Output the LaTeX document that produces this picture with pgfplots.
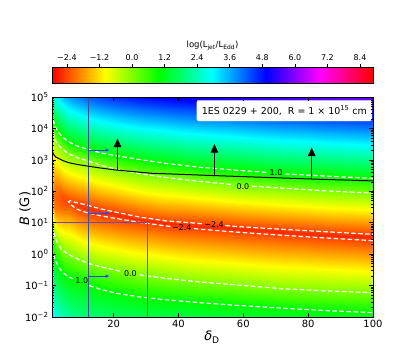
\documentclass[border=0pt]{standalone}
\usepackage{fontspec}
\setmainfont{DejaVu Sans}
\usepackage{pgfplots}
\pgfplotsset{compat=1.18}
\usepackage{pgfplotstable}
\usetikzlibrary{arrows.meta}

\pgfplotsset{colormap={mplhsv}{rgb255=(255,0,0) rgb255=(255,255,0) rgb255=(0,255,0)
  rgb255=(0,255,255) rgb255=(0,0,255) rgb255=(255,0,255) rgb255=(255,0,0)}}

% log(Ljet/LEdd): one column per delta, rows bottom -> top
% (B bottom, 1.0 low, 0.0 low, -2.4 low, valley, -2.4 up, 0.0 up, 1.0 up, B top)
\pgfplotstableread{
d lb v
1 -2 3.2
1 0.2 1
1 0.9 0
1 1.55 -1.6
1 1.95 -1.95
1 2.45 -1.4
1 4.1 0
1 4.5 1
1 5 2.3
2 -2 2.8
2 -0.2 1
2 0.52 0
2 1.45 -2.0
2 1.8 -2.2
2 2.2 -2.0
2 3.62 0
2 4.05 1
2 5 2.9
4 -2 2.4
4 -0.55 1
4 0.14 0
4 1.52 -2.25
4 1.72 -2.33
4 1.92 -2.25
4 3.36 0
4 3.75 1
4 5 3.4
6 -2 2.2
6 -0.72 1
6 0 0
6 1.58 -2.33
6 1.67 -2.39
6 1.76 -2.33
6 3.2 0
6 3.58 1
6 5 3.7
9 -2 2.0
9 -0.87 1
9 -0.16 0
9 1.43 -2.4
9 1.535 -2.5
9 1.635 -2.4
9 3.06 0
9 3.43 1
9 5 4.0
12 -2 1.9
12 -0.98 1
12 -0.29 0
12 1.31 -2.4
12 1.43 -2.55
12 1.555 -2.4
12 2.97 0
12 3.335 1
12 5 4.25
16 -2 1.8
16 -1.12 1
16 -0.40 0
16 1.22 -2.4
16 1.33 -2.6
16 1.44 -2.4
16 2.83 0
16 3.22 1
16 5 4.45
21 -2 1.7
21 -1.25 1
21 -0.52 0
21 1.13 -2.4
21 1.23 -2.62
21 1.33 -2.4
21 2.70 0
21 3.13 1
21 5 4.65
28 -2 1.6
28 -1.36 1
28 -0.66 0
28 1.01 -2.4
28 1.095 -2.64
28 1.18 -2.4
28 2.56 0
28 3.01 1
28 5 4.85
36 -2 1.5
36 -1.45 1
36 -0.77 0
36 0.90 -2.4
36 0.98 -2.65
36 1.06 -2.4
36 2.44 0
36 2.89 1
36 5 5.0
46 -2 1.45
46 -1.54 1
46 -0.88 0
46 0.80 -2.4
46 0.89 -2.65
46 0.98 -2.4
46 2.32 0
46 2.77 1
46 5 5.15
58 -2 1.35
58 -1.63 1
58 -0.98 0
58 0.70 -2.4
58 0.79 -2.65
58 0.88 -2.4
58 2.20 0
58 2.67 1
58 5 5.3
72 -2 1.25
72 -1.72 1
72 -1.10 0
72 0.60 -2.4
72 0.695 -2.65
72 0.79 -2.4
72 2.10 0
72 2.56 1
72 5 5.5
86 -2 1.2
86 -1.80 1
86 -1.17 0
86 0.51 -2.4
86 0.61 -2.65
86 0.71 -2.4
86 2.01 0
86 2.48 1
86 5 5.7
100 -2 1.15
100 -1.86 1
100 -1.23 0
100 0.43 -2.4
100 0.53 -2.65
100 0.63 -2.4
100 1.94 0
100 2.41 1
100 5 5.85
}\gridtab

\tikzset{cont/.style={white, line width=1.2bp, dash pattern=on 4.5bp off 2.5bp},
  clab/.style={font=\fontsize{8}{9}\selectfont, inner sep=0pt}}

\begin{document}
\begin{tikzpicture}
\path[use as bounding box] (0,0) rectangle (415bp,356bp);
\begin{axis}[
  at={(52bp,39bp)}, anchor=south west,
  width=321bp, height=220bp, scale only axis,
  xmin=1, xmax=100, ymode=log, ymin=1e-2, ymax=1e5,
  axis on top,
  colormap name=mplhsv, point meta min=-2.95, point meta max=8.88,
  tick align=inside,
  xtick={20,40,60,80,100},
  ytick={1e-2,1e-1,1,10,100,1000,1e4,1e5},
  yticklabels={10\textsuperscript{−2},10\textsuperscript{−1},10\textsuperscript{0},10\textsuperscript{1},
    10\textsuperscript{2},10\textsuperscript{3},10\textsuperscript{4},10\textsuperscript{5}},
  minor ytick={0.02,0.03,0.04,0.05,0.06,0.07,0.08,0.09,
    0.2,0.3,0.4,0.5,0.6,0.7,0.8,0.9, 2,3,4,5,6,7,8,9,
    20,30,40,50,60,70,80,90, 200,300,400,500,600,700,800,900,
    2000,3000,4000,5000,6000,7000,8000,9000,
    20000,30000,40000,50000,60000,70000,80000,90000},
  major tick length=4bp, minor tick length=2bp,
  every tick/.style={black, line width=0.5bp},
  axis line style={line width=0.8bp},
  tick label style={font=\fontsize{10}{12}\selectfont},
  /pgf/number format/assume math mode=true,
]
\addplot[surf, shader=interp, mesh/ordering=y varies, mesh/rows=9, mesh/cols=15,
  point meta=\thisrow{v}] table[x=d, y expr=10^\thisrow{lb}] \gridtab;

% contours, upper pair
\addplot[cont] table[row sep=\\, x=d, y expr=10^\thisrow{lb}] {d lb\\
1 4.5\\ 1.3 4.3\\ 2 4.05\\ 3 3.88\\ 4 3.75\\ 6 3.58\\ 9 3.43\\ 12 3.335\\ 16 3.22\\
21 3.13\\ 28 3.01\\ 36 2.89\\ 46 2.77\\ 58 2.67\\ 67.3 2.60\\};
\addplot[cont] table[row sep=\\, x=d, y expr=10^\thisrow{lb}] {d lb\\
72.9 2.555\\ 86 2.48\\ 100 2.41\\};
\addplot[cont] table[row sep=\\, x=d, y expr=10^\thisrow{lb}] {d lb\\
1 4.1\\ 1.3 3.9\\ 2 3.62\\ 3 3.47\\ 4 3.36\\ 6 3.2\\ 9 3.06\\ 12 2.97\\ 16 2.83\\
21 2.70\\ 28 2.56\\ 36 2.44\\ 46 2.32\\ 57 2.21\\};
\addplot[cont] table[row sep=\\, x=d, y expr=10^\thisrow{lb}] {d lb\\
62.7 2.16\\ 72 2.10\\ 86 2.01\\ 100 1.94\\};
% contour -2.4 (closed on the left)
\addplot[cont] table[row sep=\\, x=d, y expr=10^\thisrow{lb}] {d lb\\
100 0.43\\ 86 0.51\\ 72 0.60\\ 58 0.70\\ 46 0.80\\ 44.5 0.815\\};
\addplot[cont] table[row sep=\\, x=d, y expr=10^\thisrow{lb}] {d lb\\
37.5 0.885\\ 36 0.90\\ 28 1.01\\ 21 1.13\\ 16 1.22\\ 12 1.31\\ 9 1.42\\ 8.2 1.46\\
7.5 1.52\\ 6.6 1.60\\ 6.1 1.67\\ 6.6 1.70\\ 7.5 1.67\\ 8.2 1.645\\ 9 1.63\\ 12 1.555\\
16 1.44\\ 21 1.33\\ 28 1.18\\ 36 1.06\\ 46 0.98\\ 47.5 0.965\\};
\addplot[cont] table[row sep=\\, x=d, y expr=10^\thisrow{lb}] {d lb\\
54.5 0.91\\ 58 0.88\\ 72 0.79\\ 86 0.71\\ 100 0.63\\};
% contours, lower pair
\addplot[cont] table[row sep=\\, x=d, y expr=10^\thisrow{lb}] {d lb\\
1 0.9\\ 1.5 0.72\\ 2 0.52\\ 3 0.3\\ 4 0.14\\ 6 0\\ 9 -0.16\\ 12 -0.29\\ 16 -0.40\\
21 -0.52\\ 22.5 -0.55\\};
\addplot[cont] table[row sep=\\, x=d, y expr=10^\thisrow{lb}] {d lb\\
28 -0.66\\ 36 -0.77\\ 46 -0.88\\ 58 -0.98\\ 72 -1.10\\ 86 -1.17\\ 100 -1.23\\};
\addplot[cont] table[row sep=\\, x=d, y expr=10^\thisrow{lb}] {d lb\\
1 0.2\\ 1.5 -0.03\\ 2 -0.2\\ 3 -0.4\\ 4 -0.55\\ 6 -0.72\\ 7.8 -0.79\\};
\addplot[cont] table[row sep=\\, x=d, y expr=10^\thisrow{lb}] {d lb\\
12.5 -1.0\\ 16 -1.12\\ 21 -1.25\\ 28 -1.36\\ 36 -1.45\\ 46 -1.54\\ 58 -1.63\\
72 -1.72\\ 86 -1.80\\ 100 -1.86\\};

% limits
\addplot[color={rgb,255:red,125;green,70;blue,155}, line width=1bp] table[row sep=\\, x=d, y expr=10^\thisrow{lb}] {d lb\\
1 1\\ 30.3 1\\ 30.3 -2\\};
\addplot[color={rgb,255:red,65;green,80;blue,150}, line width=0.9bp] table[row sep=\\, x=d, y expr=10^\thisrow{lb}] {d lb\\
12.1 -2\\ 12.1 5\\};
\addplot[black, line width=1bp] table[row sep=\\, x=d, y expr=10^\thisrow{lb}] {d lb\\
1 3.33\\ 1.3 3.22\\ 1.7 3.14\\ 2.2 3.09\\ 3.1 3.04\\ 4.5 2.97\\ 6.15 2.91\\ 9 2.85\\
12.1 2.80\\ 16 2.74\\ 20.5 2.68\\ 31.4 2.575\\ 50.9 2.50\\ 81.1 2.39\\ 100 2.33\\};

% arrows
\addplot[black, line width=1.2bp, -{Triangle[length=8.5bp,width=7.5bp]}] table[row sep=\\, x=d, y expr=10^\thisrow{lb}] {d lb\\
21.2 2.675\\ 21.2 3.675\\};
\addplot[black, line width=1.2bp, -{Triangle[length=8.5bp,width=7.5bp]}] table[row sep=\\, x=d, y expr=10^\thisrow{lb}] {d lb\\
51.1 2.50\\ 51.1 3.50\\};
\addplot[black, line width=1.2bp, -{Triangle[length=8.5bp,width=7.5bp]}] table[row sep=\\, x=d, y expr=10^\thisrow{lb}] {d lb\\
81.1 2.39\\ 81.1 3.39\\};
\addplot[color={rgb,255:red,40;green,70;blue,240}, line width=1bp, -{Latex[length=4bp,width=3.5bp]}] table[row sep=\\, x=d, y expr=10^\thisrow{lb}] {d lb\\
12.1 3.31\\ 18.8 3.31\\};
\addplot[color={rgb,255:red,40;green,70;blue,240}, line width=1bp, -{Latex[length=4bp,width=3.5bp]}] table[row sep=\\, x=d, y expr=10^\thisrow{lb}] {d lb\\
12.1 1.30\\ 18.8 1.30\\};
\addplot[color={rgb,255:red,40;green,70;blue,240}, line width=1bp, -{Latex[length=4bp,width=3.5bp]}] table[row sep=\\, x=d, y expr=10^\thisrow{lb}] {d lb\\
12.1 -0.70\\ 18.8 -0.70\\};

% contour labels
\node[clab] at (axis cs:70.1,389) {1.0};
\node[clab] at (axis cs:59.9,141) {0.0};
\node[clab] at (axis cs:41.0,7.16) {−2.4};
\node[clab] at (axis cs:51.0,8.91) {−2.4};
\node[clab] at (axis cs:25.2,0.24) {0.0};
\node[clab] at (axis cs:10.2,0.145) {1.0};

\node[anchor=north east, draw=black!20, fill=white, rounded corners=2bp,
  inner xsep=5bp, inner ysep=5.5bp, font=\fontsize{9.5}{11}\selectfont]
  at (rel axis cs:0.997,0.986) {1ES 0229 + 200,\ \ R = 1 × 10\textsuperscript{15} cm};
\end{axis}

% colour bar
\begin{axis}[
  at={(52bp,273bp)}, anchor=south west,
  width=321bp, height=16bp, scale only axis,
  xmin=-2.95, xmax=8.88, ymin=0, ymax=1,
  ytick=\empty, axis on top,
  colormap name=mplhsv, point meta min=-2.95, point meta max=8.88,
  xtick={-2.4,-1.2,0,1.2,2.4,3.6,4.8,6,7.2,8.4},
  xticklabels={−2.4,−1.2,0.0,1.2,2.4,3.6,4.8,6.0,7.2,8.4},
  xtick pos=right, xticklabel pos=right,
  tick align=outside, major tick length=3bp,
  every tick/.style={black, line width=0.5bp},
  axis line style={line width=0.6bp},
  tick label style={font=\fontsize{8}{9.5}\selectfont},
]
\addplot[surf, shader=interp, mesh/rows=2, mesh/cols=7, point meta=\thisrow{m}] table[row sep=\\] {x y m\\
-2.95 0 -2.95\\ -0.98 0 -0.98\\ 0.99 0 0.99\\ 2.96 0 2.96\\ 4.94 0 4.94\\ 6.91 0 6.91\\ 8.88 0 8.88\\
-2.95 1 -2.95\\ -0.98 1 -0.98\\ 0.99 1 0.99\\ 2.96 1 2.96\\ 4.94 1 4.94\\ 6.91 1 6.91\\ 8.88 1 8.88\\};
\end{axis}
\node[font=\fontsize{8.5}{10}\selectfont] at (212.5bp,310bp) {log(L\textsubscript{jet}/L\textsubscript{Edd})};

\node[rotate=90, font=\fontsize{13}{15}\selectfont] at (25bp,147.5bp) {\textit{B} (G)};
\node[font=\fontsize{13}{15}\selectfont] at (212bp,19bp) {\textit{δ}\textsubscript{D}};
\end{tikzpicture}
\end{document}
